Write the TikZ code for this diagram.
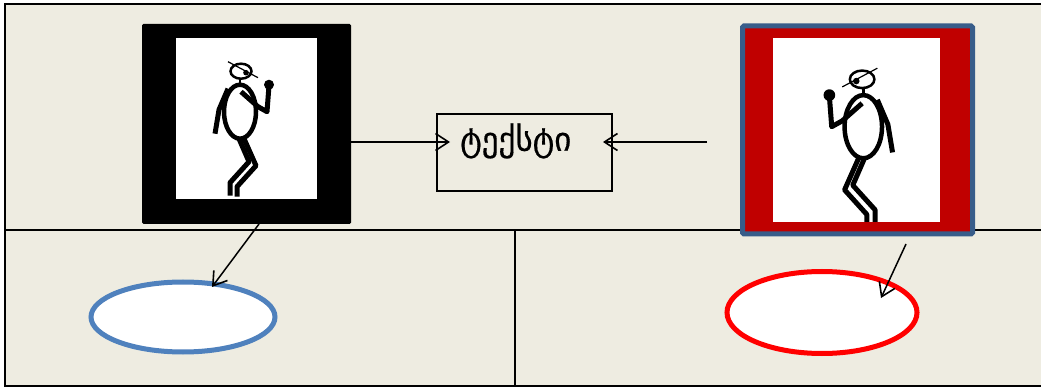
\documentclass[tikz,border=0pt]{standalone}
\usepackage{fontspec}
\newfontfamily\georgianfont[FakeBold=0.5]{DejaVu Sans}
\usetikzlibrary{arrows.meta,shapes.geometric}
\definecolor{panelbg}{HTML}{EEECE1}
\definecolor{darkred}{HTML}{C00000}
\definecolor{frameblue}{HTML}{385D8A}
\definecolor{ovalblue}{HTML}{4F81BD}
\tikzset{
  framebox/.style={rectangle,rounded corners=1.5pt,inner sep=0pt,outer sep=0pt},
  oval/.style={ellipse,fill=white,line width=5pt,inner sep=0pt,outer sep=0pt},
  link/.style={-{Straight Barb[length=13pt,width=17pt,line width=1.6pt]},line width=1.5pt},
  dancer/.pic={
    \draw[line width=4.5pt] (0,0) ellipse[x radius=16,y radius=27];
    \draw[line width=2.5pt] (1,-40.5) ellipse[x radius=10.5,y radius=7.5];
    \draw[line width=1.2pt] (-12,-50) -- (18,-34);
    \fill (6,-39) circle[radius=2.8];
    \draw[line width=2.5pt] (0,-33) -- (0,-27);
    \draw[line width=5pt,line join=round] (-12,-23) -- (-21,-2) -- (-25,22);
    \draw[line width=5pt,line join=round] (1,-20) -- (18,-5) -- (27,0) -- (29,-26);
    \fill (29,-27) circle[radius=5];
    \draw[line width=5pt,line join=round] (-1,27) -- (9,50) -- (-10,71) -- (-10,84);
    \draw[line width=5pt,line join=round] (4,27) -- (16,54) -- (-3,75) -- (-3,85);
  }
}
\begin{document}
\begin{tikzpicture}[x=1pt,y=-1pt]
  \useasboundingbox (0,0) rectangle (1041,387);
  % panels
  \fill[panelbg] (5,4) rectangle (1041,386);
  \draw[line width=1.5pt] (1041,4) -- (5,4) -- (5,386) -- (1041,386);
  \draw[line width=1.5pt] (5,230) -- (1041,230);
  \draw[line width=1.5pt] (515,230) -- (515,386);
  % left figure
  \node[framebox,fill=black,minimum width=209pt,minimum height=200pt] (leftframe) at (246.5,124) {};
  \fill[white] (176,38) rectangle (317,199);
  \pic at (240,111.7) {dancer};
  % right figure
  \node[framebox,draw=frameblue,fill=darkred,line width=5pt,minimum width=230pt,minimum height=208pt] (rightframe) at (857.5,130) {};
  \fill[white] (773,38) rectangle (940,222);
  \begin{scope}
    \clip (773,38) rectangle (940,222);
    \pic[xscale=-1.17,yscale=1.17] at (863.3,126.7) {dancer};
  \end{scope}
  % text box
  \node[draw,line width=1.5pt,minimum width=175pt,minimum height=77pt,inner sep=0pt] (textbox) at (524.5,152.5) {};
  \node[anchor=west,inner sep=0pt,font=\georgianfont\fontsize{33}{33}\selectfont] (boxlabel) at (460,141) {ტექსტი};
  % ovals
  \node[oval,draw=ovalblue,minimum width=184pt,minimum height=70pt] (blueoval) at (183,317) {};
  \node[oval,draw=red,minimum width=190pt,minimum height=82pt] (redoval) at (822,312.5) {};
  % arrows
  \coordinate (lefttip) at (450,142);
  \coordinate (righttip) at (603,142);
  \coordinate (rightstart) at (707,142);
  \coordinate (leftbottom) at (259,224);
  \coordinate (bluetip) at (212,287);
  \coordinate (redstart) at (906,244);
  \coordinate (redtip) at (881,298);
  \draw[link] (leftframe.east |- lefttip) -- (lefttip);
  \draw[link] (rightstart) -- (righttip);
  \draw[link] (leftbottom) -- (bluetip);
  \draw[link] (redstart) -- (redtip);
\end{tikzpicture}
\end{document}
